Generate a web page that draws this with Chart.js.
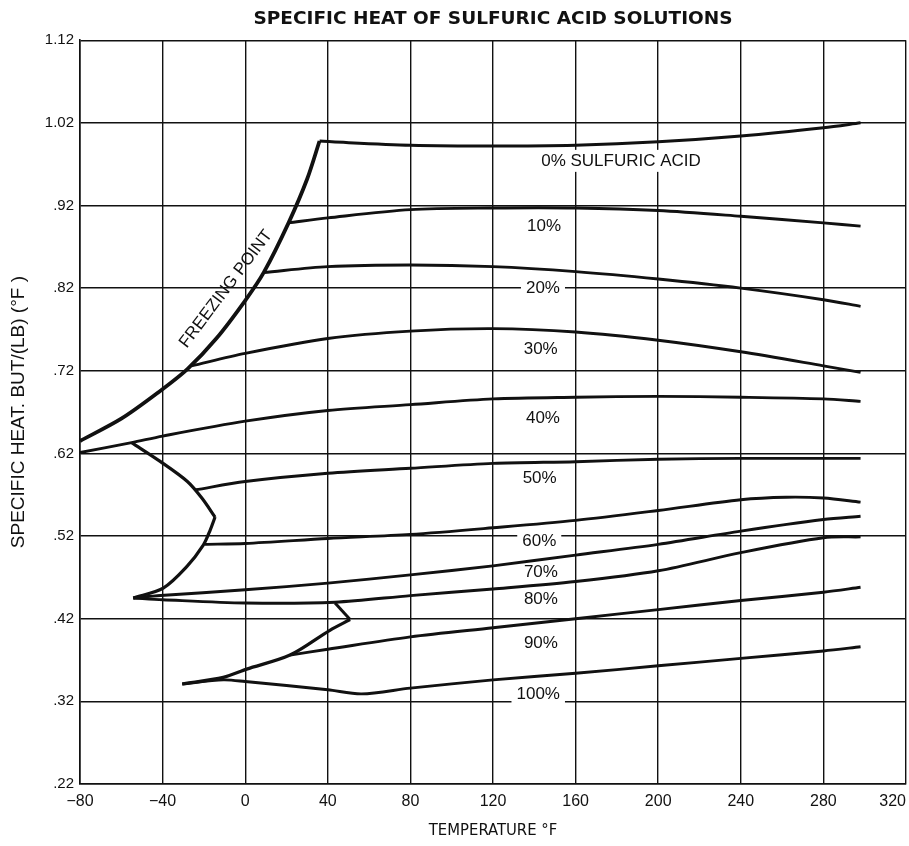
<!DOCTYPE html>
<html>
<head>
<meta charset="utf-8">
<script src="https://cdn.jsdelivr.net/npm/chart.js@4.4.1/dist/chart.umd.min.js"></script>
<style>
  html, body { margin: 0; padding: 0; background: #fff; }
</style>
</head>
<body>
<canvas id="chartCanvas" width="909" height="846"></canvas>
<script>
// Axis ticks
const xTicks = [-80, -40, 0, 40, 80, 120, 160, 200, 240, 280, 320];
const yTicks = [0.22, 0.32, 0.42, 0.52, 0.62, 0.72, 0.82, 0.92, 1.02, 1.12];
const yTickLabels = ['.22', '.32', '.42', '.52', '.62', '.72', '.82', '.92', '1.02', '1.12'];

// Freezing point curve
const freezeTemp = [-80, -60, -42, -28, -14, 0, 9, 21, 30, 36];
const freezeHeat = [0.635, 0.662, 0.694, 0.722, 0.759, 0.805, 0.839, 0.899, 0.952, 0.998];

// Acid strength curves (temperature °F -> specific heat)
const acid0Temp = [36, 42, 80, 120, 160, 200, 240, 280, 298];
const acid0Heat = [0.998, 0.997, 0.993, 0.992, 0.993, 0.997, 1.004, 1.014, 1.02];

const acid10Temp = [21, 40, 80, 120, 160, 200, 240, 280, 298];
const acid10Heat = [0.899, 0.905, 0.915, 0.917, 0.917, 0.914, 0.907, 0.899, 0.895];

const acid20Temp = [9, 40, 80, 120, 160, 200, 240, 280, 298];
const acid20Heat = [0.839, 0.846, 0.848, 0.846, 0.840, 0.831, 0.820, 0.806, 0.798];

const acid30Temp = [-26, 0, 40, 80, 120, 160, 200, 240, 280, 298];
const acid30Heat = [0.726, 0.741, 0.759, 0.768, 0.771, 0.767, 0.757, 0.743, 0.726, 0.718];

const acid40Temp = [-80, -55, -40, 0, 40, 80, 120, 160, 200, 240, 280, 298];
const acid40Heat = [0.621, 0.633, 0.641, 0.659, 0.672, 0.679, 0.686, 0.688, 0.689, 0.688, 0.686, 0.683];

const acid50Temp = [-24, 0, 40, 80, 120, 160, 200, 240, 280, 298];
const acid50Heat = [0.576, 0.586, 0.596, 0.602, 0.608, 0.610, 0.613, 0.614, 0.614, 0.614];

const acid60Temp = [-19.5, 0, 40, 80, 120, 160, 200, 240, 262, 280, 298];
const acid60Heat = [0.510, 0.511, 0.517, 0.522, 0.530, 0.539, 0.551, 0.564, 0.567, 0.566, 0.561];

const acid70Temp = [-54.2, -41, 0, 40, 80, 120, 160, 200, 240, 280, 298];
const acid70Heat = [0.445, 0.448, 0.455, 0.463, 0.473, 0.484, 0.497, 0.510, 0.526, 0.540, 0.544];

const acid80Temp = [-54.2, -40, 0, 43.5, 80, 120, 160, 200, 240, 280, 298];
const acid80Heat = [0.445, 0.443, 0.439, 0.440, 0.448, 0.456, 0.465, 0.478, 0.500, 0.518, 0.519];

const acid90Temp = [21.7, 40, 80, 120, 160, 200, 240, 280, 298];
const acid90Heat = [0.376, 0.383, 0.398, 0.409, 0.420, 0.431, 0.442, 0.452, 0.458];

const acid100Temp = [-30.5, -10.6, 0, 40, 56.4, 80, 120, 160, 200, 240, 280, 298];
const acid100Heat = [0.341, 0.346, 0.344, 0.334, 0.329, 0.336, 0.346, 0.354, 0.363, 0.372, 0.381, 0.386];

// Eutectic boundaries between the curves
const upperLoopTemp = [-55, -41, -28, -21, -14.6];
const upperLoopHeat = [0.633, 0.610, 0.586, 0.566, 0.543];
const lowerLoopTemp = [-14.6, -17, -20.3, -28.3, -39.7, -54.2];
const lowerLoopHeat = [0.543, 0.527, 0.509, 0.483, 0.457, 0.445];
const spikeTemp = [43.5, 50.8];
const spikeHeat = [0.439, 0.419];
const bottomLoopTemp = [50.8, 41, 21.7, 0.7, -10.6, -30.5];
const bottomLoopHeat = [0.419, 0.406, 0.376, 0.359, 0.349, 0.341];

// Curve labels
const curveLabels = ['0% SULFURIC ACID', '10%', '20%', '30%', '40%', '50%', '60%', '70%', '80%', '90%', '100%'];
const labelTemp = [182, 144.7, 144.2, 143.1, 144.2, 142.6, 142.4, 143.2, 143.2, 143.2, 141.9];
const labelHeat = [0.974, 0.895, 0.82, 0.746, 0.663, 0.590, 0.514, 0.476, 0.444, 0.390, 0.329];
const labelGap = [true, false, true, false, false, false, true, false, false, false, true];

const INK = '#111';
const labelFont = '17px "Liberation Sans", Arial, sans-serif';

function toPoints(xs, ys) {
  return xs.map((x, i) => ({ x: x, y: ys[i] }));
}

function curve(xs, ys, width, tension) {
  return {
    data: toPoints(xs, ys),
    showLine: true,
    borderColor: INK,
    borderWidth: width,
    pointRadius: 0,
    tension: tension,
    fill: false
  };
}

// Draw curve labels, the freezing point label and the last x tick
const labelPlugin = {
  id: 'curveLabels',
  afterDatasetsDraw(chart) {
    const ctx = chart.ctx;
    const x = chart.scales.x;
    const y = chart.scales.y;
    ctx.save();
    ctx.font = labelFont;
    ctx.textAlign = 'center';
    ctx.textBaseline = 'middle';
    curveLabels.forEach(function(text, i) {
      const px = x.getPixelForValue(labelTemp[i]);
      const py = y.getPixelForValue(labelHeat[i]);
      if (labelGap[i]) {
        const w = ctx.measureText(text).width;
        ctx.fillStyle = '#fff';
        ctx.fillRect(px - w / 2 - 5, py - 11, w + 10, 22);
      }
      ctx.fillStyle = INK;
      ctx.fillText(text, px, py);
    });

    // Freezing point label along the curve
    ctx.save();
    ctx.translate(x.getPixelForValue(-9.3), y.getPixelForValue(0.819));
    ctx.rotate(-53 * Math.PI / 180);
    ctx.fillText('FREEZING POINT', 0, 0);
    ctx.restore();

    // Last x tick label sits flush with the right edge
    ctx.font = '16px "Liberation Sans", Arial, sans-serif';
    ctx.textAlign = 'right';
    ctx.fillText('320', x.getPixelForValue(320), chart.chartArea.bottom + 8 + 9.6);
    ctx.restore();
  }
};

const chartCanvas = document.getElementById('chartCanvas');

new Chart(chartCanvas, {
  type: 'scatter',
  data: {
    datasets: [
      curve(freezeTemp, freezeHeat, 3.8, 0.3),
      curve(acid0Temp, acid0Heat, 3, 0.3),
      curve(acid10Temp, acid10Heat, 2.9, 0.3),
      curve(acid20Temp, acid20Heat, 2.9, 0.3),
      curve(acid30Temp, acid30Heat, 2.9, 0.3),
      curve(acid40Temp, acid40Heat, 2.9, 0.3),
      curve(acid50Temp, acid50Heat, 2.9, 0.3),
      curve(acid60Temp, acid60Heat, 2.9, 0.3),
      curve(acid70Temp, acid70Heat, 2.9, 0.3),
      curve(acid80Temp, acid80Heat, 2.9, 0.3),
      curve(acid90Temp, acid90Heat, 2.9, 0.3),
      curve(acid100Temp, acid100Heat, 2.9, 0.3),
      curve(upperLoopTemp, upperLoopHeat, 3.2, 0.3),
      curve(lowerLoopTemp, lowerLoopHeat, 3.2, 0.3),
      curve(spikeTemp, spikeHeat, 3, 0),
      curve(bottomLoopTemp, bottomLoopHeat, 3.2, 0.3)
    ]
  },
  options: {
    responsive: false,
    animation: false,
    layout: { padding: { top: 0, right: 3, bottom: 0, left: 0 } },
    plugins: {
      legend: { display: false },
      tooltip: { enabled: false },
      title: {
        display: true,
        fullSize: false,
        text: 'SPECIFIC HEAT OF SULFURIC ACID SOLUTIONS',
        color: INK,
        font: { family: '"DejaVu Sans", sans-serif', size: 18.5, weight: 'bold' },
        padding: { top: 8, bottom: 10 }
      }
    },
    scales: {
      x: {
        type: 'linear',
        min: -80,
        max: 320,
        afterBuildTicks: function(axis) {
          axis.ticks = xTicks.map(v => ({ value: v }));
        },
        afterFit: function(axis) {
          axis.height = 62;
        },
        grid: { color: INK, lineWidth: 1.4, drawTicks: true, tickLength: 6, tickColor: 'rgba(0,0,0,0)' },
        border: { color: INK, width: 1.6 },
        ticks: {
          autoSkip: false,
          maxRotation: 0,
          padding: 2,
          color: INK,
          font: { family: '"Liberation Sans", Arial, sans-serif', size: 16 },
          callback: function(value) {
            if (value === 320) return '';
            return value < 0 ? '\u2212' + Math.abs(value) : String(value);
          }
        },
        title: {
          display: true,
          text: 'TEMPERATURE °F',
          color: INK,
          font: { family: '"DejaVu Sans Condensed", "Liberation Sans", sans-serif', size: 16.5 },
          padding: { top: 9, bottom: 5 }
        }
      },
      y: {
        type: 'linear',
        min: 0.22,
        max: 1.12,
        afterBuildTicks: function(axis) {
          axis.ticks = yTicks.map(v => ({ value: v }));
        },
        afterFit: function(axis) {
          axis.width = 80;
        },
        grid: { color: INK, lineWidth: 1.4, drawTicks: false },
        border: { color: INK, width: 1.6 },
        ticks: {
          autoSkip: false,
          padding: 6,
          color: INK,
          font: { family: '"Liberation Sans", Arial, sans-serif', size: 15 },
          callback: function(value, index) {
            return yTickLabels[index];
          }
        },
        title: {
          display: true,
          text: 'SPECIFIC HEAT. BUT/(LB) (°F )',
          color: INK,
          font: { family: '"Liberation Sans", Arial, sans-serif', size: 19 },
          padding: { top: 7, bottom: 0 }
        }
      }
    }
  },
  plugins: [labelPlugin]
});
</script>
</body>
</html>
